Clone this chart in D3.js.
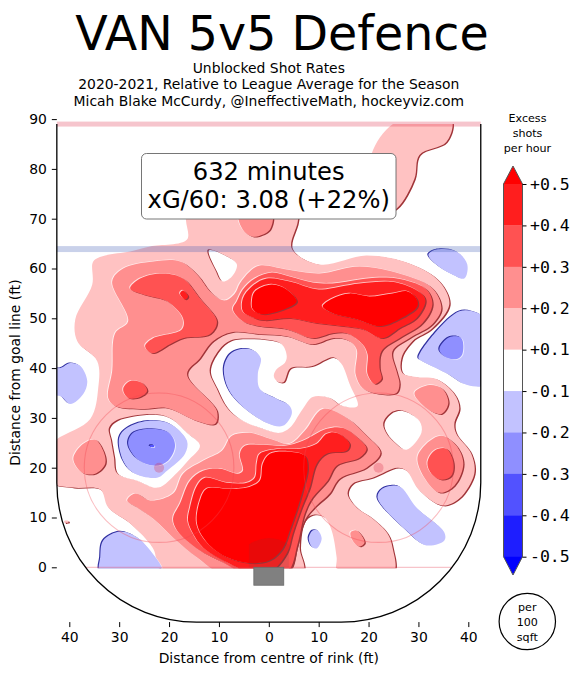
<!DOCTYPE html>
<html><head><meta charset="utf-8">
<script src="https://cdn.jsdelivr.net/npm/d3@7"></script>
<style>html,body{margin:0;padding:0;background:#fff}svg{display:block}text{font-family:"DejaVu Sans",sans-serif;fill:#000}</style>
</head><body><div id="chart"></div>
<script>
// ---- text ----
const titleText = "VAN 5v5 Defence";
const subtitleLines = ["Unblocked Shot Rates","2020-2021, Relative to League Average for the Season","Micah Blake McCurdy, @IneffectiveMath, hockeyviz.com"];
const boxLines = ["632 minutes","xG/60: 3.08 (+22%)"];
const xTicks = [-40,-30,-20,-10,0,10,20,30,40];
const yTicks = [0,10,20,30,40,50,60,70,80,90];
const barLabels = ["+0.5","+0.4","+0.3","+0.2","+0.1","-0.1","-0.2","-0.3","-0.4","-0.5"];
const bandColors = ["#ff1e1e","#ff5252","#ff8f8f","#ffc2c2","#ffffff","#c2c2ff","#8f8fff","#5252ff","#1e1eff"];
const levelColor = {p1:"#ffc2c2",p2:"#ff8f8f",p3:"#ff5252",p4:"#ff1e1e",p5:"#ff0000",n1:"#c2c2ff",n2:"#8f8fff",n3:"#5252ff",hole:"#ffffff"};

// ---- rink geometry (feet) ----
const rinkHalfWidth = 42.5, rinkTop = 89, rinkEnd = -11, cornerR = 28, blueLineY = 63.9, circleR = 15;
const faceoffX = [-22,22], faceoffY = 20;

// ---- contour regions (feet: x across, y from goal line) ----
const pinkMain = [[-16.6,72.4],[5.8,72.4],[5.8,69.4],[4.6,64],[10.2,60.8],[19.6,62.6],[28.2,61],[34.2,57.4],[36.2,52.8],[32.8,48],[28.8,45.4],[26.6,42],[26.8,39],[29.6,38.2],[33.6,37.8],[37.2,34.8],[38.2,32],[37.2,28.8],[37.6,26.8],[40.6,22.8],[41.2,18.8],[38.2,13.8],[34.8,12.4],[30.2,15.4],[27.6,19.4],[25.8,20],[20.8,18],[16.8,16.8],[15.8,14.8],[17.6,12],[20.8,9.8],[23.8,6.8],[24.8,4],[25,-1],[13.8,-1],[13.6,2],[12.6,7.4],[11.2,10],[9.2,10.6],[7.2,9.4],[6.2,4],[6.8,-1],[-21.4,-1],[-23.2,3.8],[-27.8,8.8],[-32.2,12],[-33.8,15.6],[-39.2,16],[-43.8,17.2],[-43.8,24.4],[-35.8,29.8],[-34.2,36],[-34.4,41.4],[-38.4,45.4],[-38.8,49.8],[-35.4,56.8],[-35.2,61.4],[-32.8,62.6],[-27.8,63.4],[-23.8,64.4],[-16.4,65.8],[-16.6,69.6]];
const pinkTopRight = [[26.2,89.8],[36.6,89.8],[35.6,85.4],[30.2,82.8],[29.2,78],[25.6,72],[21.2,70.4],[20.6,83]];
const pinkSpeck = [[-41,9.3],[-40.2,9.3],[-40.2,9],[-41,9]];
const holeTop = [[-12,63.6],[-8.4,62.4],[-6.4,60.8],[-7.4,58.4],[-9.2,57.4],[-10.4,59.4]];
const holeCentre = [[-11.6,39.4],[-9.8,43.4],[-7.4,45.4],[-3.8,45.8],[-0.4,45.6],[2.6,44.8],[3.6,42.4],[3.2,41],[1.6,39.8],[1,38.4],[1.8,37.2],[3.2,37],[4.6,39.8],[8.8,40.2],[13.2,42],[14.6,40.8],[16.2,36.8],[17.8,32.4],[14.8,32.4],[12.2,34],[8.8,34.2],[6.8,31.8],[4.2,28],[2.2,27],[-1.8,28],[-5.8,29.8],[-8.2,32],[-10.2,35.8]];
const holeLeft = [[-31.8,27.8],[-30.2,29.4],[-22.4,30.6],[-19.2,29.6],[-16.4,27],[-13.8,24.4],[-16.2,21.4],[-18.4,19],[-22.2,16],[-26.4,17.4],[-30.2,18.8],[-30.8,22],[-31.4,25.4]];
const holeRight = [[23.2,28.8],[24.6,30.8],[26.8,31.4],[30.2,29.4],[30.6,27],[27.6,23.6],[25.6,24.8],[23.8,26.8]];
const salmonMain = [[-31.4,57.4],[-28.2,49.4],[-30.8,47],[-31.4,39.4],[-32.2,34],[-30.8,32.4],[-25.2,31.8],[-20.4,32],[-14.4,29.4],[-10.8,28.8],[-10.4,31.4],[-16.4,38.8],[-13.8,42],[-11.2,45.4],[-7.4,47.2],[-1.8,46.8],[3.6,46.4],[8.8,44.8],[12.8,46],[15.8,45.6],[17.6,43.8],[17.4,38.8],[18.8,36],[22.2,34.8],[25.6,35],[26.2,36.8],[25.6,39.4],[24.8,43.4],[28.2,46],[32.8,48.8],[34.6,52],[32.8,56],[26.8,58.8],[18.2,60.4],[10.2,59],[3.6,59.8],[-1.8,60.6],[-3.8,59.4],[-5.8,57],[-6.8,55],[-8.8,53.6],[-11.4,55],[-14.4,58.8],[-17.8,61.4],[-23.2,61.4],[-29.2,60]];
const salmonFaceoff = [[-39.2,21.8],[-37.2,24.8],[-34.8,25.6],[-33.2,23.4],[-32.8,20.8],[-34.8,18.8],[-37.4,19]];
const salmonLow = [[-28.4,13.4],[-26.8,14.8],[-23.8,13.4],[-19.2,14.8],[-17.2,18.8],[-13.2,21.4],[-9.4,23.4],[-7.4,26.4],[-3.8,27],[0.2,25.8],[4.2,24.8],[7.2,27.4],[10.8,31.8],[15.6,30],[19.6,26.4],[22.4,23],[19.6,20],[14.2,17.8],[12.2,14.8],[9.6,12.4],[7.8,10.4],[6.6,8],[5.6,4],[3.8,-1],[-9.8,-1],[-14.4,2],[-19.2,6],[-23.2,9.8],[-26.4,12]];
const salmonSpot = [[16.4,7],[17.6,7.4],[19.2,5],[18.2,4.2],[16.8,5.4]];
const salmonBox = [[-6,71],[0.6,71],[0.2,67.8],[-1.8,66.6],[-3.2,66.4],[-5.2,67.8]];
const salmonRightUp = [[29.2,35],[32.2,36.6],[34.8,35.8],[36,33],[34.6,30.8],[31.6,32]];
const salmonRightLow = [[29.8,22],[31.6,24.8],[34.6,26.4],[37.6,24.4],[39,20.8],[37.2,16.4],[34.2,15],[31.2,18]];
const midUpper = [[-7.2,51.8],[-6.4,53.4],[-5.2,55.8],[-2.8,58],[0.6,59.2],[4.2,58.4],[8.8,57.2],[12.8,57],[18.2,57.8],[22.2,58.2],[26.8,57.8],[31.6,55.8],[32.8,52.8],[30.8,49],[26.2,46],[22.6,43.4],[22.2,40],[22.6,37.8],[21.2,36.8],[19.8,38.8],[19.8,42.8],[18.8,44.8],[15.6,47],[12.8,47],[8.8,46],[3.6,47.8],[-1.8,48.4],[-5.2,49.4]];
const midLeft = [[-27.8,56],[-25.8,58],[-21.2,59],[-17.2,58],[-13.8,54],[-10.4,49.4],[-11.8,46.8],[-17.2,46],[-19.8,44.8],[-23.4,43],[-24.8,44.4],[-23.2,46],[-17.4,47.8],[-17.2,50],[-20.4,53.4],[-25.2,54.8]];
const midSpot = [[-29.2,35.8],[-27.8,37.4],[-25.4,37],[-24.4,35.4],[-25.8,34.2],[-28.2,34]];
const midRight = [[31.8,21],[33.2,23.4],[35.6,23.8],[37,21],[36.6,18.4],[34.6,17.6],[32.6,18.8]];
const midLow = [[-19.2,9.8],[-17.8,12.8],[-15.8,17.4],[-13.2,19.4],[-9.8,19.8],[-6.2,18.8],[-5.2,19.4],[-5.8,22.8],[-4.8,24.4],[-1.2,24.6],[3.2,24.4],[6.8,25.4],[11.6,27.8],[14.8,28],[17.8,26],[19.6,23.8],[18.2,22],[13.6,20.4],[11.8,17.4],[8.8,14],[7.2,10.8],[5.8,4.8],[3.6,-1],[-5.2,-1],[-9.2,1],[-14.4,3.8],[-18.4,7.4]];
const hotUpper = [[-5.2,51.4],[-5.2,54],[-3.4,56.4],[-0.4,58],[4.2,57.4],[8.8,56],[10.8,55.8],[18.2,57],[25.6,57.2],[30.8,54.8],[31.4,53.4],[29.6,50],[26.2,48],[22.8,46],[18.8,47.8],[14.8,48.4],[9.6,49],[4.2,50],[-1.2,49.6],[-3.8,50.4]];
const hotSpeck = [[-17.8,55],[-17.2,55.6],[-16.2,54.4],[-16.8,53.8]];
const hotLow = [[-16.2,9.4],[-15.8,12],[-14.4,16.4],[-12.8,18],[-8.4,17],[-4.4,17],[-2.8,18],[-2.4,21],[-1.8,22.8],[2.2,23.8],[6.2,23.8],[9.6,24.8],[11.6,26.8],[13.6,27],[16.2,24.8],[15.6,23.4],[11.6,22.8],[9.6,20.8],[8.2,16],[6.6,12],[4.8,6.8],[3.6,2.8],[0.2,-1],[-3.8,-1],[-8.4,1],[-13.2,4],[-15.2,6.8]];
const topUpperA = [[-3.4,53.4],[-2.8,55.4],[0.6,56.8],[3.6,55.8],[5.6,53.4],[3.6,52],[-1.4,50.8],[-3.2,51.8]];
const topUpperB = [[10.8,52.4],[12.8,54],[16.2,55],[20.2,54.4],[24.8,55],[27.8,55.4],[29.6,54],[29.8,52.4],[26.2,49.8],[22.2,48.4],[17.6,49.8],[12.8,51]];
const topLow = [[-14.4,8.8],[-13.8,13.4],[-12.4,15.8],[-8.4,15.8],[-4.4,16],[-1.8,17.4],[-1.2,20.8],[0.2,22.8],[4.2,23.2],[7.2,22.4],[7.8,20],[6.8,15.4],[5.6,11.4],[4.2,7.4],[2.8,3.8],[0.2,1.4],[-3.8,0.8],[-8.4,2],[-12.4,5]];
const coolCentre = [[-9,40],[-7.8,42.8],[-5.8,43.8],[-3.2,43.6],[-1.6,42],[-2.2,38.8],[-1.8,35.8],[1.6,33.8],[4.2,32.4],[4.6,30.8],[2.8,28.4],[-0.4,29],[-5.8,32.8],[-8.2,36]];
const coolBoards = [[-43.8,40],[-41.8,40],[-39.8,41],[-37.8,40.4],[-36.4,37.4],[-37.2,34.8],[-39.8,32.8],[-41.8,34.4],[-43.8,34.4]];
const coolFaceoff = [[-30,26],[-28.4,28],[-24.4,29.4],[-19.8,28.8],[-16.4,25.4],[-16.8,22.8],[-20.4,19.4],[-22.4,18],[-27.2,19],[-29.2,21.4]];
const coolCorner = [[-33.8,2],[-33.2,5.4],[-29.8,7.2],[-26.4,6],[-23.8,3.4],[-21.4,-1],[-33.8,-1]];
const coolPointTop = [[32,62.8],[33.6,63.8],[37.6,63.4],[39.8,60.8],[39.2,58],[36.8,58.8],[33.6,60.8]];
const coolPoint = [[30,42],[33.6,47.4],[38.2,51.4],[40.8,51.4],[43.4,49.8],[43.8,36.8],[39.8,36.6],[35.6,39],[30.8,41.4]];
const coolSlot = [[21.8,14],[22.8,15.8],[25.6,16.4],[26.8,15.8],[29.6,12],[35.2,7],[35.2,5.4],[31.6,4.4],[27.6,7.4]];
const coolNet = [[8,5.8],[8.8,7.4],[9.8,7.4],[10.6,5.8],[9.6,3.8],[8.6,4.2]];
const coldFaceoff = [[-28.2,24.8],[-27.2,27],[-23.2,27.8],[-19.8,26.8],[-18.8,24.4],[-20.2,21.4],[-22.8,20.4],[-26.4,21.8]];
const coldPoint = [[34.2,43.8],[36.2,46.2],[38.6,46],[38.8,42.8],[37.6,41.8],[35.2,42.4]];
const coldSpeck = [[-23.8,24.5],[-23,24.5],[-23,24.2],[-23.8,24.2]];

const layers = [
 [pinkMain,"p1"],[pinkTopRight,"p1"],[pinkSpeck,"p1"],
 [holeTop,"hole"],[holeCentre,"hole"],[holeLeft,"hole"],[holeRight,"hole"],
 [salmonMain,"p2"],[salmonFaceoff,"p2"],[salmonLow,"p2"],[salmonSpot,"p2"],[salmonBox,"p2"],[salmonRightUp,"p2"],[salmonRightLow,"p2"],
 [midUpper,"p3"],[midLeft,"p3"],[midSpot,"p3"],[midRight,"p3"],[midLow,"p3"],
 [hotUpper,"p4"],[hotSpeck,"p4"],[hotLow,"p4"],
 [topUpperA,"p5"],[topUpperB,"p5"],[topLow,"p5"],
 [coolCentre,"n1"],[coolBoards,"n1"],[coolFaceoff,"n1"],[coolCorner,"n1"],[coolPointTop,"n1"],[coolPoint,"n1"],[coolSlot,"n1"],[coolNet,"n1"],
 [coldFaceoff,"n2"],[coldPoint,"n2"],[coldSpeck,"n3"]
];

// ---- page ----
const W = 581, H = 675;
const fs = "13.9px";
const svg = d3.select("#chart").append("svg").attr("width",W).attr("height",H);
const x = d3.scaleLinear().domain([-40,40]).range([69.3,468.3]);
const y = d3.scaleLinear().domain([0,90]).range([567.3,119.1]);
const cx = x(0);

svg.append("text").attr("x",282).attr("y",50).attr("text-anchor","middle").style("font-size","47.5px").text(titleText);
svg.selectAll(".sub").data(subtitleLines).join("text").attr("class","sub")
  .attr("x",cx).attr("y",(d,i)=>73+i*16.3).attr("text-anchor","middle").style("font-size",fs).text(d=>d);

// rink outline
const rx = x(cornerR)-x(0), ry = y(0)-y(cornerR);
const rinkPath = [
 "M",x(-rinkHalfWidth),y(rinkTop),
 "L",x(-rinkHalfWidth),y(rinkEnd+cornerR),
 "A",rx,ry,0,0,0,x(-rinkHalfWidth+cornerR),y(rinkEnd),
 "L",x(rinkHalfWidth-cornerR),y(rinkEnd),
 "A",rx,ry,0,0,0,x(rinkHalfWidth),y(rinkEnd+cornerR),
 "L",x(rinkHalfWidth),y(rinkTop)].join(" ");

const defs = svg.append("defs");
defs.append("clipPath").attr("id","rink").append("path").attr("d",rinkPath+" Z");
defs.append("clipPath").attr("id","above").append("rect")
  .attr("x",0).attr("y",y(rinkTop)).attr("width",W).attr("height",y(-0.2)-y(rinkTop));

const plot = svg.append("g").attr("clip-path","url(#rink)");
const marks = plot.append("g").attr("clip-path","url(#above)");
const contour = d3.line().x(d=>x(d[0])).y(d=>y(d[1])).curve(d3.curveCatmullRomClosed.alpha(0.5));

// embossed filled contour levels: dark edge away from the light, pale edge towards it
layers.forEach(([pts,lev])=>{
  const d = contour(pts);
  const cool = lev[0]==="n", hole = lev==="hole";
  const s = (cool||hole) ? -1 : 1;
  const edge = cool ? "#3030a0" : "#a03438";
  const k = cool ? 1.1 : 1.3;
  marks.append("path").attr("d",d).attr("fill",edge)
    .attr("transform",`translate(${k*s},${k*0.6*s})`);
  if(lev!=="p1" && !hole) marks.append("path").attr("d",d).attr("fill","#fff").attr("opacity",0.7)
    .attr("transform",`translate(${-0.9*s},${-0.6*s})`);
  marks.append("path").attr("d",d).attr("fill",levelColor[lev]);
});

// rink markings
const fullX = x(-rinkHalfWidth), fullW = x(rinkHalfWidth)-x(-rinkHalfWidth);
plot.append("line").attr("x1",fullX).attr("x2",fullX+fullW).attr("y1",y(0)).attr("y2",y(0)).attr("stroke","rgba(230,60,80,0.3)").attr("stroke-width",1.2);
faceoffX.forEach(fx=>{
  plot.append("ellipse").attr("cx",x(fx)).attr("cy",y(faceoffY)).attr("rx",x(circleR)-x(0)).attr("ry",y(0)-y(circleR)).attr("fill","none").attr("stroke","rgba(240,70,80,0.35)").attr("stroke-width",1.1);
  plot.append("circle").attr("cx",x(fx)).attr("cy",y(faceoffY)).attr("r",5).attr("fill","rgba(220,40,70,0.28)");
});
const crease = d3.path();
crease.moveTo(x(-4),y(0)); crease.lineTo(x(-4),y(4.6));
crease.quadraticCurveTo(x(0),y(7.2),x(4),y(4.6)); crease.lineTo(x(4),y(0)); crease.closePath();
plot.append("path").attr("d",crease.toString()).attr("fill","rgba(70,70,70,0.12)");
plot.append("rect").attr("x",x(-3)).attr("y",y(0)).attr("width",x(3)-x(-3)).attr("height",y(-3.6)-y(0)).attr("fill","#808080").attr("stroke","#6a6a6a").attr("stroke-width",0.8);
svg.append("rect").attr("x",fullX).attr("y",y(rinkTop+0.5)).attr("width",fullW).attr("height",y(rinkTop-0.5)-y(rinkTop+0.5)).attr("fill","rgba(220,40,70,0.27)");
svg.append("rect").attr("x",fullX).attr("y",y(blueLineY+0.6)).attr("width",fullW).attr("height",y(blueLineY-0.6)-y(blueLineY+0.6)).attr("fill","rgba(60,90,180,0.28)");

svg.append("path").attr("d",rinkPath).attr("fill","none").attr("stroke","#000").attr("stroke-width",1.3);

// axes
const yAxis = d3.axisLeft(y).tickValues(yTicks).tickSize(5).tickPadding(5);
const xAxis = d3.axisBottom(x).tickValues(xTicks).tickSize(5).tickPadding(5).tickFormat(d=>Math.abs(d));
const gy = svg.append("g").attr("transform",`translate(${x(-rinkHalfWidth)},0)`).call(yAxis);
const gx = svg.append("g").attr("transform",`translate(0,${y(rinkEnd)})`).call(xAxis);
[gx,gy].forEach(g=>{g.select(".domain").remove();g.selectAll("text").style("font-size",fs).style("font-family",'"DejaVu Sans"');});
svg.append("text").attr("x",cx).attr("y",663).attr("text-anchor","middle").style("font-size",fs).text("Distance from centre of rink (ft)");
svg.append("text").attr("transform",`translate(20,372.5) rotate(-90)`).attr("text-anchor","middle").style("font-size",fs).text("Distance from goal line (ft)");

// info box
const box = svg.append("g");
box.append("rect").attr("x",141.5).attr("y",153.5).attr("width",254.5).attr("height",65.5).attr("rx",5).attr("fill","#fff").attr("stroke","#666").attr("stroke-width",0.9);
box.selectAll("text").data(boxLines).join("text").attr("x",268.7).attr("y",(d,i)=>180+i*28).attr("text-anchor","middle").style("font-size","24.2px").text(d=>d);

// colour bar
const barX = 503.5, barW = 19;
const bar = d3.scalePoint().domain(barLabels).range([184,556.7]);
const barG = svg.append("g");
barG.selectAll("rect").data(bandColors).join("rect")
  .attr("x",barX).attr("width",barW)
  .attr("y",(d,i)=>bar(barLabels[i])).attr("height",(d,i)=>bar(barLabels[i+1])-bar(barLabels[i])+0.3)
  .attr("fill",d=>d);
const tri = (ty,by)=>`M${barX},${by}L${barX+barW/2},${ty}L${barX+barW},${by}Z`;
barG.append("path").attr("d",tri(166,bar("+0.5"))).attr("fill","#ff0000");
barG.append("path").attr("d",tri(575,bar("-0.5"))).attr("fill","#0000ff");
barG.append("path").attr("fill","none").attr("stroke","#555").attr("stroke-width",1)
  .attr("d",`M${barX},${bar("+0.5")}L${barX+barW/2},166L${barX+barW},${bar("+0.5")}L${barX+barW},${bar("-0.5")}L${barX+barW/2},575L${barX},${bar("-0.5")}Z`);
const gb = svg.append("g").attr("transform",`translate(${barX+barW},0)`).call(d3.axisRight(bar).tickSize(4).tickPadding(3.5));
gb.select(".domain").remove();
gb.selectAll("text").style("font-family",'"DejaVu Sans Mono"').style("font-size","16.5px");

svg.selectAll(".exc").data(["Excess","shots","per hour"]).join("text").attr("class","exc")
  .attr("x",527.5).attr("y",(d,i)=>122+i*15).attr("text-anchor","middle").style("font-size","11.1px").text(d=>d);
svg.append("circle").attr("cx",527.3).attr("cy",621.5).attr("r",28.2).attr("fill","#fff").attr("stroke","#000").attr("stroke-width",1.2);
svg.selectAll(".per").data(["per","100","sqft"]).join("text").attr("class","per")
  .attr("x",527.3).attr("y",(d,i)=>611+i*15).attr("text-anchor","middle").style("font-size","11.1px").text(d=>d);
</script></body></html>
